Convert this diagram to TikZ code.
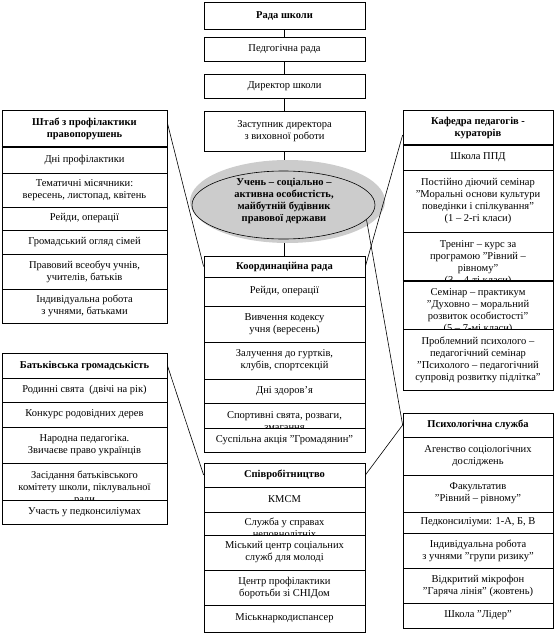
\documentclass[tikz,border=0pt]{standalone}
\usepackage{fontspec}
\setmainfont{Liberation Serif}[Ligatures=ResetAll]
\usetikzlibrary{calc,shapes.geometric}
\newcommand\fs{\fontsize{10.5}{12}\selectfont}
\tikzset{
  cellbox/.style={draw, fill=white, line width=0.75pt, inner sep=0pt},
  celltext/.style={align=center, inner sep=0pt, font=\fs},
  titletext/.style={align=center, inner sep=0pt, font=\fs\bfseries},
  link/.style={line width=0.6pt},
  thickrule/.style={line width=2pt},
}
\newcommand\mkbox[5]{\node[cellbox, minimum width={#3-#2}, minimum height={#5-#4}] (#1) at ({(#2+#3)/2},{(#4+#5)/2}) {};}
\newcommand\mkcell[6]{\mkbox{#1}{#2}{#3}{#4}{#5}\node[celltext] (#1-t) at (#1.center) {#6};}
\newcommand\mktitle[6]{\mkbox{#1}{#2}{#3}{#4}{#5}\node[titletext] (#1-t) at (#1.center) {#6};}
\newcommand\mkover[7]{\mkbox{#1}{#2}{#3}{#4}{#5}\node[inner sep=0pt, anchor=base, font=\fs] (#1-t) at ({(#2+#3)/2},{#4+#6}) {\parbox[t]{150pt}{\centering #7}};}
\begin{document}
\begin{tikzpicture}[x=1pt,y=-1pt]
\useasboundingbox (0,0) rectangle (554,635);
% central chain
\mktitle{rada}{204}{365}{2}{29}{Рада школи}
\mkcell{ped}{204}{365}{37}{61}{Педгогічна рада}
\mkcell{dir}{204}{365}{74}{98}{Директор школи}
\mkcell{zast}{204}{365}{111}{151}{Заступник директора\\з виховної роботи}
\draw[link] (rada.south) -- (ped.north);
\draw[link] (ped.south) -- (dir.north);
\draw[link] (dir.south) -- (zast.north);
% ellipse
\node[ellipse, fill=gray!40, minimum width=195, minimum height=83, inner sep=0pt] (shade) at (287.5,201.5) {};
\node[ellipse, draw, line width=0.6pt, minimum width=183, minimum height=68, inner sep=0pt] (goal) at (283.5,205) {};
\node[titletext] (goal-t) at (284,201) {Учень – соціально –\\активна особистість,\\майбутній будівник\\правової держави};
\draw[link] (zast.south) -- (zast.south |- shade.north);
% coordination council
\mktitle{coT}{204}{365}{256}{277}{Координаційна рада}
\draw[link] (coT.north) -- (coT.north |- shade.south);
\mkcell{co1}{204}{365}{277}{306}{Рейди, операції}
\mkcell{co2}{204}{365}{306}{342}{Вивчення кодексу\\учня (вересень)}
\mkcell{co3}{204}{365}{342}{379}{Залучення до гуртків,\\клубів, спортсекцій}
\mkcell{co4}{204}{365}{379}{403}{Дні здоров’я}
\mkover{co5}{204}{365}{403}{428}{15}{Спортивні свята, розваги,\\змагання}
\mkcell{co6}{204}{365}{428}{452}{Суспільна акція "Громадянин"}
% staff
\mktitle{shT}{2}{167}{110}{147}{Штаб з профілактики\\правопорушень}
\mkcell{sh1}{2}{167}{147}{173}{Дні профілактики}
\mkcell{sh2}{2}{167}{173}{207}{Тематичні місячники:\\вересень, листопад, квітень}
\mkcell{sh3}{2}{167}{207}{230}{Рейди, операції}
\mkcell{sh4}{2}{167}{230}{254}{Громадський огляд сімей}
\mkcell{sh5}{2}{167}{254}{289}{Правовий всеобуч учнів,\\учителів, батьків}
\mkcell{sh6}{2}{167}{289}{323}{Індивідуальна робота\\з учнями, батьками}
% department
\mktitle{kaT}{403}{553}{110}{145}{Кафедра педагогів -\\кураторів}
\mkcell{ka1}{403}{553}{145}{170}{Школа ППД}
\mkcell{ka2}{403}{553}{170}{232}{Постійно діючий семінар\\"Моральні основи культури\\поведінки і спілкування"\\(1 – 2-гі класи)}
\mkover{ka3}{403}{553}{232}{281}{15.5}{Тренінг – курс за\\програмою "Рівний –\\рівному"\\(3 – 4-ті класи)}
\mkover{ka4}{403}{553}{281}{329}{14.5}{Семінар – практикум\\"Духовно – моральний\\розвиток особистості"\\(5 – 7-мі класи)}
\mkcell{ka5}{403}{553}{329}{390}{Проблемний психолого –\\педагогічний семінар\\"Психолого – педагогічний\\супровід розвитку підлітка"}
% parents
\mktitle{baT}{2}{167}{353}{378}{Батьківська громадськість}
\mkcell{ba1}{2}{167}{378}{402}{Родинні свята~ (двічі на рік)}
\mkcell{ba2}{2}{167}{402}{427}{Конкурс родовідних дерев}
\mkcell{ba3}{2}{167}{427}{463}{Народна педагогіка.\\Звичаєве право українців}
\mkover{ba4}{2}{167}{463}{500}{15.5}{Засідання батьківського\\комітету школи, піклувальної\\ради}
\mkcell{ba5}{2}{167}{500}{524}{Участь у педконсиліумах}
% cooperation
\mktitle{spT}{204}{365}{463}{487}{Співробітництво}
\mkcell{sp1}{204}{365}{487}{512}{КМСМ}
\mkover{sp2}{204}{365}{512}{535}{13.5}{Служба у справах\\неповнолітніх}
\mkcell{sp3}{204}{365}{535}{570}{Міський центр соціальних\\служб для молоді}
\mkcell{sp4}{204}{365}{570}{605}{Центр профілактики\\боротьби зі СНІДом}
\mkcell{sp5}{204}{365}{605}{632}{Міськнаркодиспансер}
% psychological service
\mktitle{psT}{403}{553}{413}{437}{Психологічна служба}
\mkcell{ps1}{403}{553}{437}{475}{Агенство соціологічних\\досліджень}
\mkcell{ps2}{403}{553}{475}{512}{Факультатив\\"Рівний – рівному"}
\mkcell{ps3}{403}{553}{512}{533}{Педконсиліуми: 1-А, Б, В}
\mkcell{ps4}{403}{553}{533}{568}{Індивідуальна робота\\з учнями "групи ризику"}
\mkcell{ps5}{403}{553}{568}{603}{Відкритий мікрофон\\"Гаряча лінія" (жовтень)}
\mkcell{ps6}{403}{553}{603}{628}{Школа "Лідер"}
% thick rules
\draw[thickrule] (shT.south west) -- (shT.south east);
\draw[thickrule] (kaT.south west) -- (kaT.south east);
\draw[thickrule] (ka4.north west) -- (ka4.north east);
% diagonal links
\draw[link] ([yshift=5.5pt]shT.east) -- (coT.west);
\draw[link] ([yshift=-7.5pt]kaT.west) -- (coT.east);
\draw[link] (baT.east) -- (spT.west);
\draw[link] (psT.west) -- (spT.east);
\draw[link] (goal.-10) -- (psT.west);
\end{tikzpicture}
\end{document}
